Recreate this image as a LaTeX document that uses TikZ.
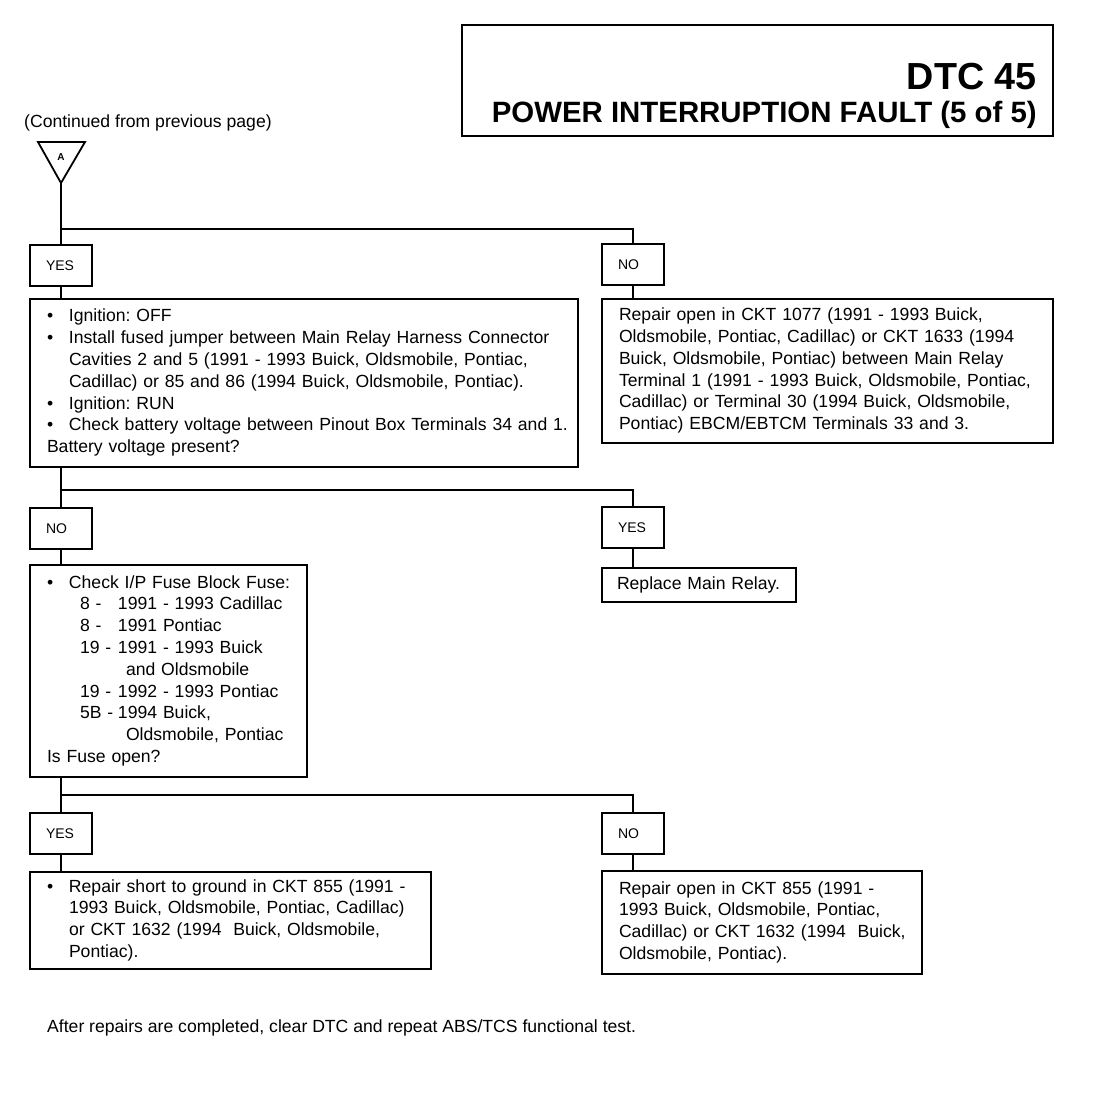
\documentclass[tikz,border=0pt]{standalone}
\usepackage{fontspec}
\setmainfont{Liberation Sans}
\usetikzlibrary{positioning}
\frenchspacing

% one line of a box: bullet item, its continuation, fuse table row
\newcommand{\bitem}[1]{\mbox{\makebox[22pt][l]{\textbullet}#1}}
\newcommand{\bcont}[1]{\mbox{\hspace*{22pt}#1}}
\newcommand{\fuserow}[2]{\mbox{\hspace*{33pt}\makebox[38pt][l]{#1}#2}}

\begin{document}
\begin{tikzpicture}[
    x=1pt, y=-1pt,
    every node/.style={font=\fontsize{17.6}{21.8}\selectfont},
    plain/.style={inner sep=0pt},
    answer/.style={draw, line width=1.8pt, text width=30pt, inner xsep=16pt, inner ysep=0pt,
        minimum height=41pt, align=left, font=\fontsize{14}{16}\selectfont},
    action/.style={draw, line width=1.8pt, inner xsep=17pt, inner ysep=0pt, align=left},
    link/.style={line width=2.8pt}
]
\useasboundingbox (0,0) rectangle (1120,1120);

% Title
\node[draw, line width=1.8pt, minimum width=591pt, minimum height=111pt, inner sep=0pt,
    anchor=north west] (titlebox) at (461,24) {};
\node[plain, anchor=base east, font=\fontsize{37.7}{40}\selectfont\bfseries] (dtc) at (1037,89) {DTC 45};
\node[plain, anchor=base east, font=\fontsize{29.4}{32}\selectfont\bfseries] (fault) at (1037,122) {POWER INTERRUPTION FAULT (5 of 5)};

% Entry point
\node[plain, anchor=base west] (cont) at (24,127) {(Continued from previous page)};
\coordinate (tri) at (61,183);
\draw[line width=1.8pt] (tri) -- ++(-23,-41) -- ++(47,0) -- cycle;
\node[font=\fontsize{10}{12}\selectfont\bfseries] (lblA) at (61,157) {A};

% First test
\node[answer, anchor=north] (yes1) at (61,244) {YES};
\node[answer, anchor=north] (no1) at (633,243) {NO};
\node[action, text width=514pt, minimum height=168pt, below=11pt of yes1.south west, anchor=north west] (chk1) {%
\bitem{Ignition: OFF}\\
\bitem{Install fused jumper between Main Relay Harness Connector}\\
\bcont{Cavities 2 and 5 (1991 - 1993 Buick, Oldsmobile, Pontiac,}\\
\bcont{Cadillac) or 85 and 86 (1994 Buick, Oldsmobile, Pontiac).}\\
\bitem{Ignition: RUN}\\
\bitem{Check battery voltage between Pinout Box Terminals 34 and 1.}\\
\mbox{Battery voltage present?}};
\node[action, text width=417pt, minimum height=144pt, below=12pt of no1.south west, anchor=north west] (rep1) {%
\mbox{Repair open in CKT 1077 (1991 - 1993 Buick,}\\
\mbox{Oldsmobile, Pontiac, Cadillac) or CKT 1633 (1994}\\
\mbox{Buick, Oldsmobile, Pontiac) between Main Relay}\\
\mbox{Terminal 1 (1991 - 1993 Buick, Oldsmobile, Pontiac,}\\
\mbox{Cadillac) or Terminal 30 (1994 Buick, Oldsmobile,}\\
\mbox{Pontiac) EBCM/EBTCM Terminals 33 and 3.}};

% Second test
\node[answer, anchor=north] (no2) at (61,507) {NO};
\node[answer, anchor=north] (yes2) at (633,506) {YES};
\node[action, text width=243pt, minimum height=212pt, below=14pt of no2.south west, anchor=north west] (fuse) {%
\bitem{Check I/P Fuse Block Fuse:}\\
\fuserow{8 -}{1991 - 1993 Cadillac}\\
\fuserow{8 -}{1991 Pontiac}\\
\fuserow{19 -}{1991 - 1993 Buick}\\
\mbox{\hspace*{79pt}and Oldsmobile}\\
\fuserow{19 -}{1992 - 1993 Pontiac}\\
\fuserow{5B -}{1994 Buick,}\\
\mbox{\hspace*{79pt}Oldsmobile, Pontiac}\\
\mbox{Is Fuse open?}};
\node[action, inner xsep=15pt, text width=164pt, minimum height=34pt, below=18pt of yes2.south west, anchor=north west] (relay) {\mbox{Replace Main Relay.}};

% Third test
\node[answer, anchor=north] (yes3) at (61,812) {YES};
\node[answer, anchor=north] (no3) at (633,812) {NO};
\node[action, text width=367pt, minimum height=97pt, below=16pt of yes3.south west, anchor=north west] (short) {%
\bitem{Repair short to ground in CKT 855 (1991 -}\\
\bcont{1993 Buick, Oldsmobile, Pontiac, Cadillac)}\\
\bcont{or CKT 1632 (1994\ \ Buick, Oldsmobile,}\\
\bcont{Pontiac).}};
\node[action, text width=286pt, minimum height=103pt, below=15pt of no3.south west, anchor=north west] (open) {%
\mbox{Repair open in CKT 855 (1991 -}\\
\mbox{1993 Buick, Oldsmobile, Pontiac,}\\
\mbox{Cadillac) or CKT 1632 (1994\ \ Buick,}\\
\mbox{Oldsmobile, Pontiac).}};

% Footer
\node[plain, anchor=base west] (note) at (47,1032) {After repairs are completed, clear DTC and repeat ABS/TCS functional test.};

% Connectors
\coordinate (s1) at (61,229);
\coordinate (s2) at (61,490);
\coordinate (s3) at (61,795);
\draw[link] (tri) -- (yes1.north);
\draw[link] (s1) -| (no1.north);
\draw[link] (yes1.south) -- (yes1.south |- chk1.north);
\draw[link] (no1.south) -- (no1.south |- rep1.north);
\draw[link] (yes1.south |- chk1.south) -- (no2.north);
\draw[link] (s2) -| (yes2.north);
\draw[link] (no2.south) -- (no2.south |- fuse.north);
\draw[link] (yes2.south) -- (yes2.south |- relay.north);
\draw[link] (no2.south |- fuse.south) -- (yes3.north);
\draw[link] (s3) -| (no3.north);
\draw[link] (yes3.south) -- (yes3.south |- short.north);
\draw[link] (no3.south) -- (no3.south |- open.north);

\end{tikzpicture}
\end{document}
